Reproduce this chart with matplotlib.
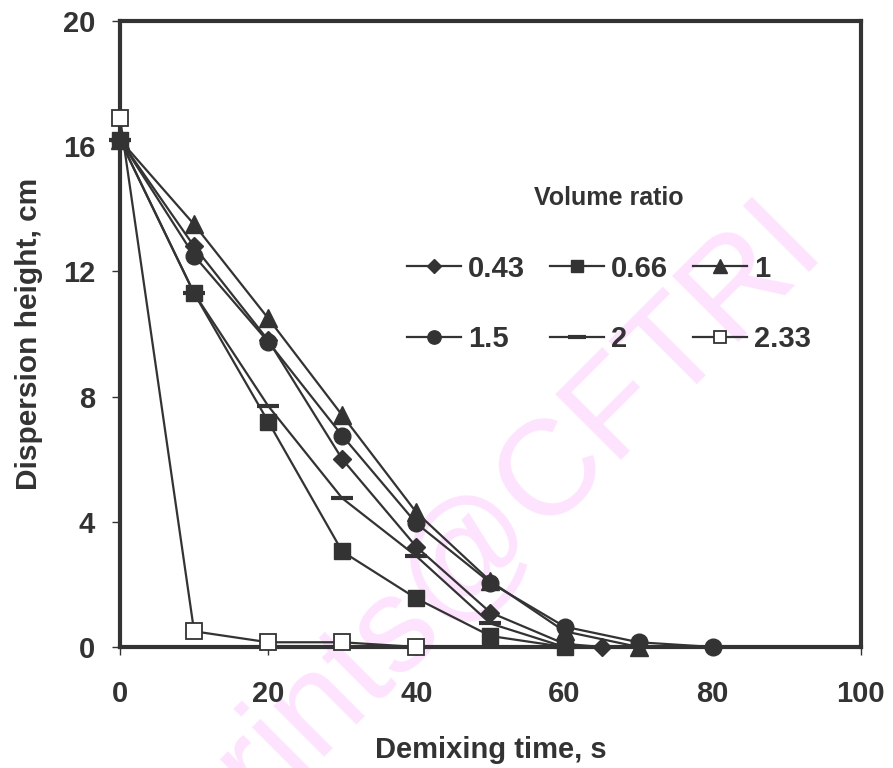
import matplotlib
matplotlib.use("Agg")
import matplotlib.pyplot as plt

plt.rcParams['font.family'] = ['Liberation Sans', 'DejaVu Sans']
plt.rcParams['font.weight'] = 'bold'

# demixing time (s) and dispersion height (cm) for each volume ratio
t_043 = [0, 10, 20, 30, 40, 50, 60, 65]
h_043 = [16.2, 12.8, 9.8, 6.0, 3.2, 1.1, 0.1, 0.0]
t_066 = [0, 10, 20, 30, 40, 50, 60]
h_066 = [16.2, 11.3, 7.2, 3.05, 1.55, 0.35, 0.0]
t_1 = [0, 10, 20, 30, 40, 50, 60, 70]
h_1 = [16.2, 13.5, 10.5, 7.4, 4.3, 2.1, 0.5, 0.0]
t_15 = [0, 10, 20, 30, 40, 50, 60, 70, 80]
h_15 = [16.2, 12.5, 9.75, 6.75, 3.95, 2.05, 0.65, 0.15, 0.0]
t_2 = [0, 10, 20, 30, 40, 50, 60]
h_2 = [16.2, 11.3, 7.7, 4.75, 2.9, 0.75, 0.0]
t_233 = [0, 10, 20, 30, 40]
h_233 = [16.9, 0.5, 0.15, 0.15, 0.0]

labels = ['0.43', '0.66', '1', '1.5', '2', '2.33']
xticks = [0, 20, 40, 60, 80, 100]
yticks = [0, 4, 8, 12, 16, 20]

col = '#333333'
fig = plt.figure(figsize=(8.93, 7.68), dpi=100)
ax = fig.add_axes([0.1344, 0.1576, 0.8296, 0.8151])
ax.set_zorder(2)
ax.patch.set_alpha(0)

# watermark behind the axes
fig.text(0.925, 0.675, 'eprints@CFTRI', fontsize=98, color='#fde3fd',
         rotation=45, rotation_mode='anchor', ha='right', va='baseline',
         weight='normal', zorder=0)

kw = dict(color=col, lw=1.6, clip_on=False, zorder=3)
l1, = ax.plot(t_043, h_043, marker='D', ms=9, **kw)
l2, = ax.plot(t_066, h_066, marker='s', ms=11, **kw)
l3, = ax.plot(t_1, h_1, marker='^', ms=13, **kw)
l4, = ax.plot(t_15, h_15, marker='o', ms=12, **kw)
l5, = ax.plot(t_2, h_2, marker='_', ms=16, mew=3, **kw)
l6, = ax.plot(t_233, h_233, marker='s', ms=11, mfc='white', mec=col, mew=1.3, **kw)

ax.set_xlim(0, 100)
ax.set_ylim(0, 20)
ax.set_xticks(xticks)
ax.set_yticks(yticks)
ax.tick_params(labelsize=21, colors=col, length=6, width=1)
ax.tick_params(axis='x', pad=18)
ax.tick_params(axis='y', pad=12)
for s in ax.spines.values():
    s.set_linewidth(3)
    s.set_color(col)

ax.set_xlabel('Demixing time, s', fontsize=21, color=col, labelpad=20, weight='bold')
ax.set_ylabel('Dispersion height, cm', fontsize=21.5, color=col, labelpad=14, weight='bold')

handles = [l1, l4, l2, l5, l3, l6]
hl = [labels[0], labels[3], labels[1], labels[4], labels[2], labels[5]]
leg = ax.legend(handles, hl, ncol=3, frameon=False, fontsize=21,
                title='Volume ratio', title_fontproperties={'size': 18, 'weight': 'bold'},
                loc='center', bbox_to_anchor=(0.660, 0.603), handlelength=1.85,
                columnspacing=0.85, labelspacing=1.45, handletextpad=0.25,
                markerscale=0.8)
for t in leg.get_texts():
    t.set_color(col)
leg.get_title().set_color(col)
leg._legend_box.sep = 32

fig.savefig('out.png', dpi=100)
